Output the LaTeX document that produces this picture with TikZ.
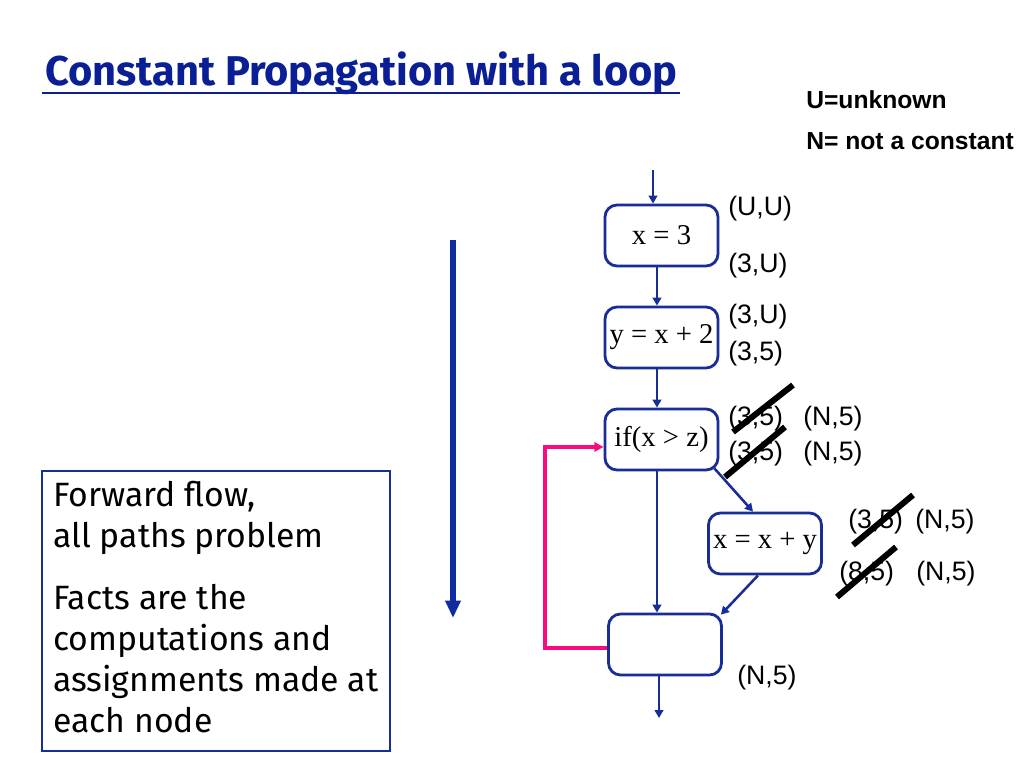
\documentclass[tikz,border=0pt]{standalone}
\usepackage{fontspec}
\setmainfont{Liberation Serif}
\newfontfamily\arialf{Liberation Sans}
\newfontfamily\comicf{Fira Sans}
\usetikzlibrary{arrows.meta}
\definecolor{titleblue}{RGB}{10,30,150}
\definecolor{nodeblue}{RGB}{25,45,150}
\definecolor{bigblue}{RGB}{15,45,160}
\definecolor{loopmag}{RGB}{250,10,125}
\begin{document}
\begin{tikzpicture}[x=0.75pt,y=-0.75pt,
  blk/.style={draw=nodeblue,line width=2.1pt,rounded corners=9pt,minimum width=84.75pt,minimum height=45.75pt,inner sep=1pt,font=\fontsize{21.5}{24}\selectfont},
  flow/.style={draw=nodeblue,line width=1.9pt,-{Triangle[length=6pt,width=6.5pt]}},
  lab/.style={anchor=base west,inner sep=0pt,font=\arialf\fontsize{20}{24}\selectfont},
  strike/.style={line width=4.5pt,black},
  loopln/.style={draw=loopmag,line width=2.6pt,-{Triangle[length=7pt,width=7pt]}}]
\useasboundingbox (0,0) rectangle (1024,768);
\fill[white] (0,0) rectangle (1024,768);
% title
\node[anchor=base west,inner sep=0pt,text=titleblue,font=\comicf\bfseries\fontsize{31.2}{36}\selectfont] (title) at (45,85) {Constant Propagation with a loop};
\draw[titleblue,line width=1.9pt] ([xshift=-2pt,yshift=-6pt]title.base west) -- ([xshift=2pt,yshift=-6pt]title.base east);
% legend
\node[anchor=base west,inner sep=0pt,font=\arialf\bfseries\fontsize{18.5}{22}\selectfont] (leg1) at (806,108) {U=unknown};
\node[anchor=base west,inner sep=0pt,font=\arialf\bfseries\fontsize{18.5}{22}\selectfont] (leg2) at (806,149) {N= not a constant};
% blocks
\node[blk] (x3) at (661.5,235.5) {x = 3};
\node[blk] (y2) at (661.5,337.5) {y = x + 2};
\node[blk] (ifn) at (661.5,439.5) {if(x > z)};
\node[blk] (xxy) at (765,543.5) {x = x + y};
\node[blk] (emp) at (665,644.5) {};
% connectors
\coordinate (in) at (653,170);
\coordinate (out) at (659,718);
\draw[flow] (in) -- (in |- x3.north);
\draw[flow] ([xshift=-3.4pt]x3.south) -- ([xshift=-3.4pt]y2.north);
\draw[flow] ([xshift=-3.4pt]y2.south) -- ([xshift=-3.4pt]ifn.north);
\draw[flow] ([xshift=-3.4pt]ifn.south) -- ([xshift=-3.4pt]ifn.south |- emp.north);
\draw[flow] ([shift={(-3.75pt,2.25pt)}]ifn.south east) -- ([xshift=-9pt]xxy.north);
\draw[flow] ([xshift=-5.25pt]xxy.south) -- ([shift={(-1.5pt,-1.5pt)}]emp.north east);
\draw[flow] (emp.south -| out) -- (out);
\draw[loopln] ([yshift=-2.5pt]emp.west) -- ++(-62,0) |- ([yshift=-5.6pt]ifn.west);
% big arrow
\coordinate (ba) at (453,240);
\coordinate (bb) at (453,618);
\draw[bigblue,line width=3.8pt,-{Triangle[length=13pt,width=11pt]}] (ba) -- (bb);
% text box
\node[draw=nodeblue,line width=2.2pt,minimum width=261pt,minimum height=210pt,inner sep=0pt] (box) at (216,611) {};
\node[anchor=north west,align=left,inner sep=0pt,font=\comicf\fontsize{25.3}{30.75}\selectfont] (boxtxt) at (53,481) {Forward flow,\\ all paths problem\\[15.75pt] Facts are the\\ computations and\\ assignments made at\\ each node};
% labels
\node[lab] (l1) at (728,215) {(U,U)};
\node[lab] (l2) at (728,272) {(3,U)};
\node[lab] (l3) at (728,323) {(3,U)};
\node[lab] (l4) at (728,360) {(3,5)};
\node[lab] (l5a) at (728,425) {(3,5)};
\node[lab] (l5b) at (803,425) {(N,5)};
\node[lab] (l6a) at (728,460) {(3,5)};
\node[lab] (l6b) at (803,460) {(N,5)};
\node[lab] (l7a) at (848,528) {(3,5)};
\node[lab] (l7b) at (915,528) {(N,5)};
\node[lab] (l8a) at (839,580) {(8,5)};
\node[lab] (l8b) at (916,580) {(N,5)};
\node[lab] (l9) at (737,684) {(N,5)};
% strikes
\draw[strike] (733,432) -- (793,385);
\draw[strike] (725,477) -- (785,427);
\draw[strike] (853,545) -- (913,495);
\draw[strike] (837,597) -- (896,547);
\end{tikzpicture}
\end{document}
